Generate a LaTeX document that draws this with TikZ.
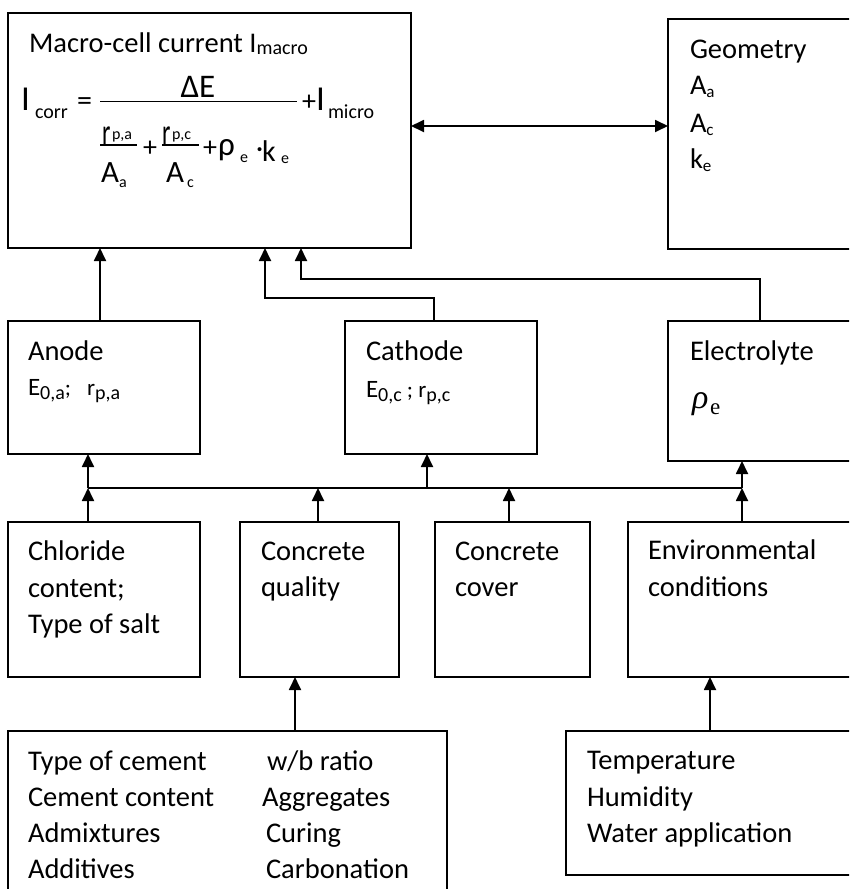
\documentclass[tikz,border=0pt]{standalone}
\usepackage{fontspec}
\setmainfont{Carlito}
\newfontfamily\tmsfont{Liberation Serif}
\usetikzlibrary{arrows.meta}
\newcommand{\fs}[1]{\fontsize{#1}{#1}\selectfont}
\newcommand{\lowsub}[3]{\raisebox{-#1pt}{\fs{#2}#3}}
\begin{document}
\begin{tikzpicture}[x=1pt,y=-1pt,
  box/.style={draw, line width=1.8pt, inner sep=0pt, outer sep=0pt, anchor=north west},
  txt/.style={anchor=base west, inner sep=0pt, outer sep=0pt, font=\fs{28.5}},
  sml/.style={anchor=base west, inner sep=0pt, outer sep=0pt},
  eq/.style={anchor=base west, inner sep=0pt, outer sep=0pt},
  con/.style={line width=1.8pt},
  >={Triangle[width=12pt,length=13pt]}]
\useasboundingbox (0,0) rectangle (849,889);
\clip (0,0) rectangle (849,889);

% boxes
\node[box, minimum width=403pt, minimum height=235pt] (macro) at (8,13) {};
\node[box, minimum width=200pt, minimum height=230pt] (geom) at (668,19) {};
\node[box, minimum width=192pt, minimum height=133pt] (anode) at (8,321) {};
\node[box, minimum width=192pt, minimum height=133pt] (cathode) at (345,321) {};
\node[box, minimum width=184pt, minimum height=140pt] (electrolyte) at (668,321) {};
\node[box, minimum width=192pt, minimum height=155pt] (chloride) at (8,522) {};
\node[box, minimum width=159pt, minimum height=155pt] (cquality) at (240,522) {};
\node[box, minimum width=155pt, minimum height=155pt] (ccover) at (435,522) {};
\node[box, minimum width=240pt, minimum height=155pt] (env) at (628,522) {};
\node[box, minimum width=439pt, minimum height=180pt] (cement) at (8,731) {};
\node[box, minimum width=300pt, minimum height=144pt] (temp) at (566,731) {};

% macro box text
\node[txt] (mtitle) at (29,52) {Macro-cell current I\lowsub{2}{20}{macro}};
\node[eq, font=\fs{35}] (eqI) at (21,110) {I};
\node[eq, font=\fs{20}] (eqcorr) at (35,118) {corr};
\node[eq, font=\fs{30}] (eqeq) at (77,110) {=};
\node[eq, font=\fs{33}, anchor=base] (eqnum) at (198,97) {ΔE};
\node[eq, font=\fs{28}] (eqplus1) at (302,110) {+};
\node[eq, font=\fs{35}] (eqI2) at (316,110) {I};
\node[eq, font=\fs{20}] (eqmicro) at (328,118) {micro};
\node[eq, font=\fs{24}] (eqr1) at (102,145) {\scalebox{1}[1.6]{r}};
\node[eq, font=\fs{16}] (eqpa) at (112,139) {p,a};
\node[eq, font=\fs{31}] (eqA1) at (101,182) {A};
\node[eq, font=\fs{16}] (eqa) at (119,187) {a};
\node[eq, font=\fs{28}] (eqplus2) at (143,156) {+};
\node[eq, font=\fs{24}] (eqr2) at (162,145) {\scalebox{1}[1.6]{r}};
\node[eq, font=\fs{16}] (eqpc) at (172,139) {p,c};
\node[eq, font=\fs{31}] (eqA2) at (166,182) {A};
\node[eq, font=\fs{16}] (eqc) at (187,187) {c};
\node[eq, font=\fs{28}] (eqplus3) at (203,156) {+};
\node[eq, font=\fs{33}] (eqrho) at (218,155) {ρ};
\node[eq, font=\fs{16}] (eqe1) at (240,162) {e};
\node[eq, font=\fs{28}] (eqdot) at (256,157) {·};
\node[eq, font=\fs{30}] (eqk) at (262,161) {k};
\node[eq, font=\fs{16}] (eqe2) at (281,163) {e};
\draw[line width=1.5pt] (100,101.7) -- (297,101.7);
\draw[line width=1.2pt] (100,145) -- (137,145);
\draw[line width=1.2pt] (162,145) -- (199,145);

% geometry text
\node[txt] (gt1) at (690,58) {Geometry};
\node[txt] (gt2) at (690,94) {A\lowsub{3}{17}{a}};
\node[txt] (gt3) at (690,132) {A\lowsub{3}{17}{c}};
\node[txt] (gt4) at (690,168) {k\lowsub{3}{17}{e}};

% anode / cathode / electrolyte text
\node[txt] (at1) at (28,360) {Anode};
\node[sml] (at2) at (28,395) {{\fs{25}E}\lowsub{4}{20}{0,a}{\fs{23};}\hspace*{16pt}{\fs{23}r}\lowsub{4}{20}{p,a}};
\node[txt] (ct1) at (366,360) {Cathode};
\node[sml] (ct2) at (366,397) {{\fs{25}E}\lowsub{4}{20}{0,c}{\fs{23} ; r}\lowsub{4}{20}{p,c}};
\node[txt] (et1) at (690,360) {Electrolyte};
\node[eq, font=\fs{34}\tmsfont\itshape] (et2) at (692,408) {ρ};
\node[eq, font=\fs{23}\tmsfont] (et3) at (710,414) {e};

% middle row text
\node[txt] (ch1) at (28,560) {Chloride};
\node[txt] (ch2) at (28,597) {content;};
\node[txt] (ch3) at (28,633) {Type of salt};
\node[txt] (cq1) at (261,560) {Concrete};
\node[txt] (cq2) at (261,596) {quality};
\node[txt] (cc1) at (455,560) {Concrete};
\node[txt] (cc2) at (455,596) {cover};
\node[txt] (en1) at (648,559) {Environmental};
\node[txt] (en2) at (648,596) {conditions};

% bottom text
\node[txt] (b1) at (28,770) {Type of cement};
\node[txt] (b2) at (28,806) {Cement content};
\node[txt] (b3) at (28,842) {Admixtures};
\node[txt] (b4) at (28,878) {Additives};
\node[txt] (b5) at (267,770) {w/b ratio};
\node[txt] (b6) at (262,806) {Aggregates};
\node[txt] (b7) at (266,842) {Curing};
\node[txt] (b8) at (266,878) {Carbonation};
\node[txt] (t1) at (587,769) {Temperature};
\node[txt] (t2) at (587,806) {Humidity};
\node[txt] (t3) at (587,842) {Water application};

% connectors
\draw[con,<->] (macro.east |- 0,126) -- (geom.west |- 0,126);
\coordinate (aT) at (100,321);
\draw[con,->] (aT) -- (aT |- macro.south);
\coordinate (cT) at (434,321);
\coordinate (k1) at (265,298);
\draw[con,->] (cT) |- (k1) -- (k1 |- macro.south);
\coordinate (k2) at (301,279);
\draw[con,->] (electrolyte.north) |- (k2) -- (k2 |- macro.south);

\coordinate (busL) at (88,488);
\coordinate (busR) at (742,488);
\coordinate (busC) at (427,488);
\coordinate (bQ) at (318,488);
\coordinate (bV) at (509,488);
\draw[con] (busL) -- (busR);
\draw[con,->] (busL) -- (busL |- anode.south);
\draw[con,->] (busC) -- (busC |- cathode.south);
\draw[con,->] (busR) -- (busR |- electrolyte.south);
\draw[con,->] (chloride.north -| busL) -- (busL);
\draw[con,->] (cquality.north -| bQ) -- (bQ);
\draw[con,->] (ccover.north -| bV) -- (bV);
\draw[con,->] (env.north -| busR) -- (busR);

\coordinate (xq) at (295,700);
\coordinate (xt) at (710,700);
\draw[con,->] (cement.north -| xq) -- (cquality.south -| xq);
\draw[con,->] (temp.north -| xt) -- (env.south -| xt);
\end{tikzpicture}
\end{document}
